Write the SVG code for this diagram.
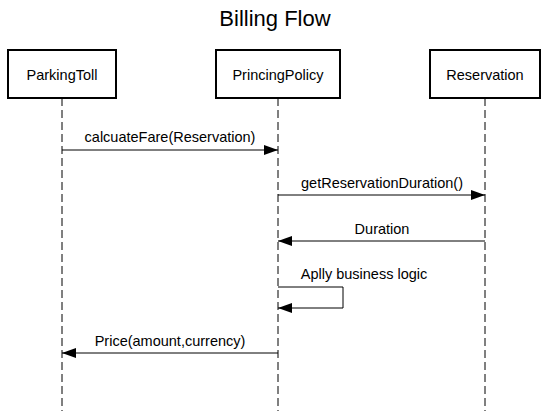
<svg xmlns="http://www.w3.org/2000/svg" width="550" height="411" viewBox="0 0 550 411">
<style>
.box{fill:#fff;stroke:#000;stroke-width:2}
.life{stroke:#000;stroke-width:1;stroke-dasharray:8,4;fill:none}
.msg{stroke:#000;stroke-width:1;fill:none}
text{font-family:"Liberation Sans",Arial,sans-serif;fill:#000}
.lbl{font-size:14.5px;text-anchor:middle}
.title{font-size:22px;text-anchor:middle}
</style>
<defs>
<marker id="ah" viewBox="0 0 14 10" refX="14" refY="5" markerWidth="14" markerHeight="10" markerUnits="userSpaceOnUse" orient="auto">
<path d="M0,0 L14,5 L0,10 Z" fill="#000"/>
</marker>
</defs>
<rect width="550" height="411" fill="#fff"/>
<text class="title" x="275" y="26">Billing Flow</text>
<g id="ParkingToll">
<line class="life" x1="62" y1="98" x2="62" y2="411"/>
<rect class="box" x="8" y="50" width="108" height="48"/>
<text class="lbl" x="62" y="80">ParkingToll</text>
</g>
<g id="PrincingPolicy">
<line class="life" x1="278" y1="98" x2="278" y2="411"/>
<rect class="box" x="216" y="50" width="124" height="48"/>
<text class="lbl" x="278" y="80">PrincingPolicy</text>
</g>
<g id="Reservation">
<line class="life" x1="485" y1="98" x2="485" y2="411"/>
<rect class="box" x="430" y="50" width="110" height="48"/>
<text class="lbl" x="485" y="80">Reservation</text>
</g>
<g id="connectors">
<line class="msg" x1="62" y1="150" x2="278" y2="150" marker-end="url(#ah)"/>
<text class="lbl" x="170" y="142">calcuateFare(Reservation)</text>
<line class="msg" x1="278" y1="195" x2="485" y2="195" marker-end="url(#ah)"/>
<text class="lbl" x="382" y="188">getReservationDuration()</text>
<line class="msg" x1="485" y1="241" x2="278" y2="241" marker-end="url(#ah)"/>
<text class="lbl" x="382" y="234">Duration</text>
<polyline class="msg" points="278,287 343,287 343,308 278,308" marker-end="url(#ah)"/>
<text class="lbl" x="364" y="279">Aplly business logic</text>
<line class="msg" x1="278" y1="353" x2="62" y2="353" marker-end="url(#ah)"/>
<text class="lbl" x="170" y="346">Price(amount,currency)</text>
</g>
</svg>
